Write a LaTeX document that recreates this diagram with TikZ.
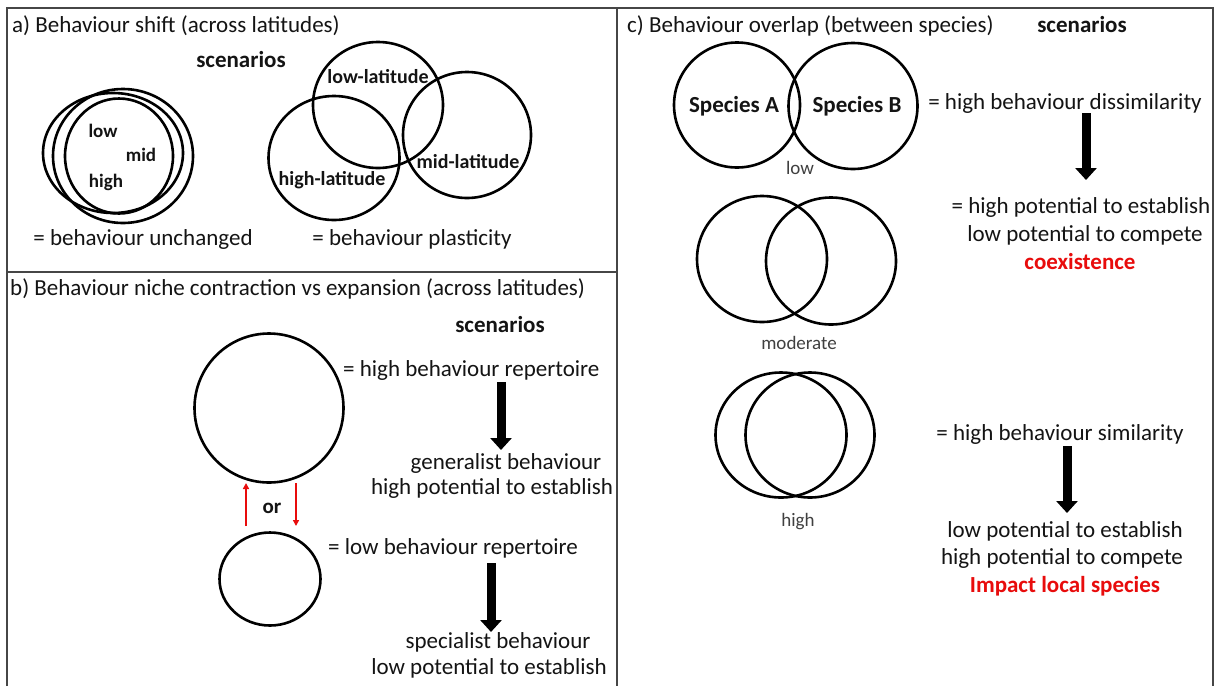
\documentclass[tikz,border=0pt]{standalone}
\usepackage{fontspec}
\setmainfont{Carlito}
\usetikzlibrary{arrows.meta,shapes.geometric}
\definecolor{framec}{RGB}{70,70,70}
\definecolor{redc}{RGB}{232,12,12}
\definecolor{labgray}{RGB}{64,64,64}
\definecolor{txtc}{RGB}{20,20,20}
\begin{document}
\begin{tikzpicture}[x=1pt,y=-1pt,
  frame/.style={draw=framec,line width=1.1pt},
  ring/.style={draw,ellipse,line width=2.6pt,inner sep=0pt,outer sep=0pt},
  body/.style={font=\fontsize{23}{28}\selectfont,text=txtc,inner sep=0pt,anchor=base},
  bodyb/.style={font=\fontsize{23}{28}\selectfont\bfseries,text=txtc,inner sep=0pt,anchor=base},
  smallb/.style={font=\fontsize{19}{23}\selectfont\bfseries,text=txtc,inner sep=0pt,anchor=base},
  latb/.style={font=\fontsize{20}{24}\selectfont\bfseries,text=txtc,inner sep=0pt,anchor=base},
  graylab/.style={font=\fontsize{19}{23}\selectfont,text=labgray,inner sep=0pt,anchor=base},
  redb/.style={font=\fontsize{23}{28}\selectfont\bfseries,text=redc,inner sep=0pt,anchor=base},
  bigarrow/.style={line width=9pt,-{Triangle[length=12pt,width=21pt]}},
  redarrow/.style={draw=redc,line width=1.6pt,-{Triangle[length=6pt,width=6pt]}}
]
\useasboundingbox (0,0) rectangle (1220,686);
\fill[white] (0,0) rectangle (1220,686);

% frame
\draw[frame] (7,686) -- (7,8) -- (1213,8) -- (1213,686);
\draw[frame] (617,8) -- (617,686);
\draw[frame] (7,272) -- (617,272);

% ---------- panel a ----------
\node[body,anchor=base west] (ta) at (12,32) {a) Behaviour shift (across latitudes)};
\node[bodyb] (sca) at (241,67) {scenarios};

\node[ring,minimum width=140pt,minimum height=120pt] (ea1) at (113,153) {};
\node[ring,minimum width=140pt,minimum height=134pt] (ea2) at (123,156) {};
\node[ring,minimum width=108pt,minimum height=115pt] (ea3) at (119,156) {};
\node[smallb] (alow) at (103,137) {low};
\node[smallb] (amid) at (141,161) {mid};
\node[smallb] (ahigh) at (106,187) {high};

\node[ring,minimum width=130pt,minimum height=126pt] (clow) at (378,105) {};
\node[ring,minimum width=131pt,minimum height=124pt] (chigh) at (334,158) {};
\node[ring,minimum width=128pt,minimum height=126pt] (cmid) at (467,135) {};
\node[latb] (llow) at (378,83) {low-latitude};
\node[latb] (lhigh) at (332,185) {high-latitude};
\node[latb] (lmid) at (468,168) {mid-latitude};

\node[body] (unch) at (143,245) {= behaviour unchanged};
\node[body] (plas) at (412,245) {= behaviour plasticity};

% ---------- panel b ----------
\node[body,anchor=base west] (tb) at (10,295) {b) Behaviour niche contraction vs expansion (across latitudes)};
\node[bodyb] (scb) at (500,332) {scenarios};

\node[ring,minimum width=149pt,minimum height=149pt] (bigc) at (269,408) {};
\node[ring,minimum width=101pt,minimum height=93pt] (smallc) at (270,579) {};
\node[font=\fontsize{21}{25}\selectfont\bfseries,text=txtc,inner sep=0pt,anchor=base] (or) at (272,513) {or};

\coordinate (ru1) at (246,526);
\coordinate (ru2) at (246,483);
\coordinate (rd1) at (296,483);
\coordinate (rd2) at (296,526);
\draw[redarrow] (ru1) -- (ru2);
\draw[redarrow] (rd1) -- (rd2);

\node[body,anchor=base west] (hrep) at (343,376) {= high behaviour repertoire};
\coordinate (b1s) at (501,382);
\coordinate (b1e) at (501,450);
\draw[bigarrow] (b1s) -- (b1e);
\node[body] (gen) at (506,469) {generalist behaviour};
\node[body] (hpe) at (492,494) {high potential to establish};

\node[body,anchor=base west] (lrep) at (328,554) {= low behaviour repertoire};
\coordinate (b2s) at (491,563);
\coordinate (b2e) at (491,632);
\draw[bigarrow] (b2s) -- (b2e);
\node[body] (spec) at (498,648) {specialist behaviour};
\node[body] (lpe) at (489,674) {low potential to establish};

% ---------- panel c ----------
\node[body,anchor=base west] (tc) at (627,32) {c) Behaviour overlap (between species)};
\node[bodyb] (scc) at (1082,32) {scenarios};

\node[ring,minimum width=126pt,minimum height=125pt] (spa) at (737,105) {};
\node[ring,minimum width=129pt,minimum height=126pt] (spb) at (853,106) {};
\node[bodyb] (lspa) at (734,112) {Species A};
\node[bodyb] (lspb) at (857,112) {Species B};
\node[graylab] (lowl) at (800,174) {low};

\node[ring,minimum width=130pt,minimum height=126pt] (m1) at (762,259) {};
\node[ring,minimum width=130pt,minimum height=127pt] (m2) at (831,261) {};
\node[graylab] (modl) at (799,349) {moderate};

\node[ring,minimum width=131pt,minimum height=125pt] (h1) at (781,435) {};
\node[ring,minimum width=129pt,minimum height=125pt] (h2) at (810,435) {};
\node[graylab] (highl) at (798,526) {high};

\node[body] (dis) at (1065,109) {= high behaviour dissimilarity};
\coordinate (c1s) at (1086,113);
\coordinate (c1e) at (1086,180);
\draw[bigarrow] (c1s) -- (c1e);
\node[body] (hpe2) at (1081,213) {= high potential to establish};
\node[body] (lpc) at (1085,241) {low potential to compete};
\node[redb] (coex) at (1080,269) {coexistence};

\node[body] (sim) at (1060,440) {= high behaviour similarity};
\coordinate (c2s) at (1067,446);
\coordinate (c2e) at (1067,513);
\draw[bigarrow] (c2s) -- (c2e);
\node[body] (lpe2) at (1065,537) {low potential to establish};
\node[body] (hpc) at (1062,564) {high potential to compete};
\node[redb] (imp) at (1065,592) {Impact local species};
\end{tikzpicture}
\end{document}
